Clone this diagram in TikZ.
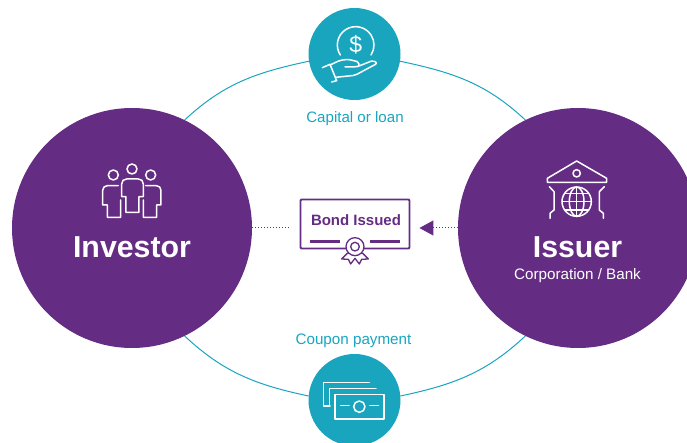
\documentclass[tikz,border=0pt]{standalone}
\usepackage{fontspec}
\setmainfont{Liberation Sans}
\usetikzlibrary{arrows.meta}
\definecolor{bondpurple}{HTML}{652C84}
\definecolor{bondteal}{HTML}{1AA5BF}
\newcommand{\pxfont}[1]{\fontsize{#1}{#1}\selectfont}

\begin{document}
\begin{tikzpicture}[x=1pt,y=-1pt,
  bigdisc/.style={circle,fill=bondpurple,minimum size=240pt,inner sep=0pt},
  smalldisc/.style={circle,fill=bondteal,minimum size=92pt,inner sep=0pt},
  ring/.style={bondteal,line width=1pt},
  dotline/.style={bondpurple,line width=1pt,dash pattern=on 1pt off 2pt},
  icon/.style={white,line width=1.5pt,line join=round,line cap=round},
  tealtext/.style={bondteal,inner sep=0pt},
  zoomed/.style={x=.3333pt,y=-.3333pt}]
\useasboundingbox (0,0) rectangle (687,443);
\clip (0,0) rectangle (687,443);

\node[bigdisc](investor) at (132,228) {};
\node[bigdisc](issuer) at (578,228) {};
\node[smalldisc](capital) at (354.5,54) {};
\node[smalldisc](coupon) at (354.5,400) {};

\draw[ring](investor.64) to[out=43,in=192] (capital.189);
\draw[ring](capital.351) to[out=-12,in=137] (issuer.116);
\draw[ring](investor.296) to[out=-43,in=168] (coupon.175);
\draw[ring](coupon.5) to[out=12,in=223] (issuer.244);

\node[white,inner sep=0pt,font=\pxfont{30.3}\bfseries](investorlabel) at (132,247) {Investor};
\node[white,inner sep=0pt,font=\pxfont{30.3}\bfseries](issuerlabel) at (577.5,247) {Issuer};
\node[white,inner sep=0pt,font=\pxfont{15.2}](issuersub) at (577.5,275.5) {Corporation / Bank};
\node[tealtext,font=\pxfont{15.1}](capitallabel) at (355,118.5) {Capital or loan};
\node[tealtext,font=\pxfont{15.2}](couponlabel) at (353.5,340.5) {Coupon payment};

\node[draw=bondpurple,line width=1.8pt,rounded corners=1pt,minimum width=109pt,minimum height=49pt,inner sep=0pt](bond) at (355,224) {};
\node[bondpurple,inner sep=0pt,font=\pxfont{15}\bfseries](bondlabel) at (356,220) {Bond Issued};

\draw[dotline](investor.east) -- ([xshift=-10pt]investor.east -| bond.west);
\draw[dotline,-{Triangle[length=14pt,width=15pt,fill=bondpurple]}](issuer.west) -- ([xshift=9pt]issuer.west -| bond.east);

% seal on the bond
\begin{scope}[shift={(240,190)},zoomed,bondpurple,line width=1.3pt,line join=round]
\draw[line width=3pt](210,155) -- (300,155);
\draw[line width=3pt](390,155) -- (480,155);
\draw[fill=white](322,190) -- (305,207) -- (325,208) -- (332,222) -- (345,205) -- (358,222) -- (365,208) -- (385,207) -- (368,190) -- cycle;
\draw[fill=white](345,170) circle (27);
\draw(345,170) circle (13);
\end{scope}

% people
\begin{scope}[shift={(90,155)},zoomed,icon]
\draw(126,42) circle (15);
\draw(70,60) circle (15);
\draw(182,60) circle (15);
\draw(108,172) -- (108,125) -- (95,125) -- (95,87) .. controls (95,78) and (101,72) .. (110,72) -- (145,72) .. controls (154,72) and (160,78) .. (160,87) -- (160,125) -- (147,125) -- (147,172) -- cycle;
\draw(85,92) -- (52,92) .. controls (44,92) and (38,98) .. (38,106) -- (38,150) -- (52,150) -- (52,187) -- (92,187) -- (92,135);
\draw(167,92) -- (199,92) .. controls (207,92) and (213,98) .. (213,106) -- (213,150) -- (200,150) -- (200,187) -- (160,187) -- (160,135);
\end{scope}

% bank
\begin{scope}[shift={(535,150)},zoomed,icon]
\draw(125,33) -- (215,85) -- (215,97) -- (37,97) -- (37,85) -- cycle;
\draw(125,70) circle (11);
\draw(125,155) circle (44);
\draw(125,155) ellipse (22 and 44);
\draw(125,111) -- (125,199);
\draw(81,155) -- (169,155);
\draw(90,130) -- (160,130);
\draw(90,180) -- (160,180);
\draw(43,110) -- (57,125) -- (57,180) -- (45,190) -- (45,205);
\draw(208,110) -- (193,125) -- (193,180) -- (205,190) -- (205,205);
\end{scope}

% hand and coin
\begin{scope}[shift={(290,0)},zoomed,icon]
\draw(197,135)+(147:55) arc[start angle=147,end angle=393,radius=55];
\node[white,inner sep=0pt,font=\pxfont{23}] (dollar) at (197,134) {\$};
\draw(97,203) -- (120,193) -- (140,242) -- (125,246);
\draw[rounded corners=2pt](120,195) -- (150,181) -- (175,178) -- (207,186) -- (207,200) -- (165,201);
\draw[rounded corners=2pt](207,198) -- (250,181) -- (262,190) -- (195,226) -- (137,232);
\end{scope}

% banknotes
\begin{scope}[shift={(290,325)},zoomed,icon]
\draw(135,208) rectangle (282,282);
\draw(208,245) circle (17);
\draw(152,242) -- (177,242);
\draw(240,242) -- (265,242);
\draw(238,172) -- (100,172) -- (100,243) -- (120,243);
\draw(258,190) -- (118,190) -- (118,243);
\end{scope}
\end{tikzpicture}
\end{document}
